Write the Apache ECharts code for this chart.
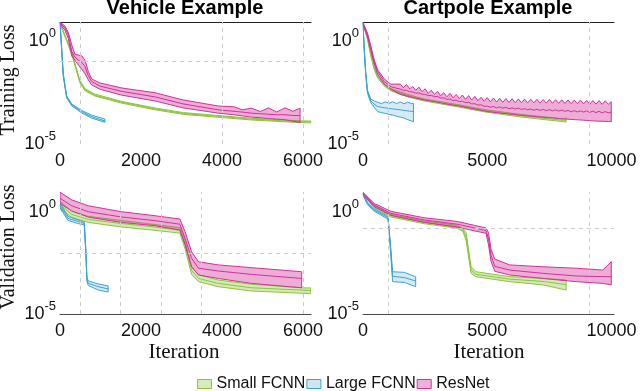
<!DOCTYPE html>
<html><head><meta charset="utf-8">
<script src="https://cdn.jsdelivr.net/npm/echarts@6/dist/echarts.min.js"></script>
<style>html,body{margin:0;padding:0;background:#fff}#c{width:640px;height:391px}</style>
</head><body><div id="c"></div>
<script>
// rows: [iteration, lower, mean, upper]
const vehicleTrainSmall = [
  [0, 6.5, 6.9, 7.3], [290, 0.22, 0.25, 0.28], [490, 0.0092, 0.0105, 0.012],
  [620, 0.0037, 0.0042, 0.0047], [860, 0.0021, 0.0023, 0.0026], [1520, 0.00095, 0.00105, 0.00115],
  [2350, 0.00045, 0.0005, 0.00055], [3050, 0.00027, 0.0003, 0.00033], [4730, 0.000145, 0.00016, 0.000175],
  [5930, 0.000108, 0.00012, 0.000132], [6210, 0.000105, 0.000117, 0.000128]
];
const vehicleTrainLarge = [
  [0, 7.0, 7.4, 7.8], [40, 0.38, 0.43, 0.48], [80, 0.019, 0.022, 0.025], [165, 0.0017, 0.0019, 0.0021],
  [290, 0.0007, 0.00078, 0.00087], [535, 0.00032, 0.00037, 0.00042], [780, 0.00018, 0.00021, 0.00025],
  [1110, 0.000112, 0.00013, 0.00016]
];
const vehicleTrainRes = [
  [0, 6.3, 7.1, 7.6], [120, 3.2, 4.1, 5.2], [205, 1.26, 1.9, 2.5], [290, 0.18, 0.3, 0.62],
  [370, 0.112, 0.158, 0.22], [453, 0.066, 0.112, 0.2], [535, 0.042, 0.089, 0.186], [617, 0.025, 0.056, 0.115],
  [700, 0.0126, 0.02, 0.032], [782, 0.0072, 0.0105, 0.014], [990, 0.0044, 0.0063, 0.0089],
  [1530, 0.0023, 0.0035, 0.0051], [2350, 0.0012, 0.0019, 0.003], [3040, 0.00056, 0.00087, 0.00135],
  [3910, 0.00031, 0.00045, 0.00069], [4300, 0.00026, 0.00038, 0.00063], [4500, 0.00023, 0.00035, 0.00045],
  [4730, 0.0002, 0.00031, 0.00054], [4950, 0.000186, 0.00029, 0.00037], [5150, 0.00017, 0.000275, 0.00056],
  [5350, 0.00016, 0.00026, 0.000355], [5560, 0.000148, 0.00026, 0.00056], [5750, 0.000126, 0.00024, 0.00038],
  [5930, 0.00011, 0.000235, 0.00054]
];
const cartpoleTrainSmall = [
  [0, 6.5, 6.9, 7.3], [180, 1.15, 1.3, 1.45], [315, 0.18, 0.2, 0.23], [450, 0.041, 0.046, 0.052],
  [585, 0.016, 0.018, 0.02], [855, 0.0064, 0.0072, 0.0081], [1120, 0.0037, 0.0042, 0.0047],
  [1790, 0.0019, 0.0022, 0.0025], [2460, 0.0012, 0.00135, 0.0015], [3800, 0.00063, 0.00072, 0.00081],
  [4940, 0.00035, 0.0004, 0.00045], [6230, 0.00021, 0.00024, 0.00028], [8110, 0.000118, 0.000138, 0.00016],
  [8170, 0.000112, 0.000132, 0.00019]
];
const cartpoleTrainLarge = [
  [0, 6.3, 6.9, 7.2], [47, 0.35, 0.43, 0.5], [115, 0.018, 0.022, 0.026], [180, 0.0028, 0.0034, 0.004],
  [315, 0.00098, 0.0012, 0.0015], [450, 0.0006, 0.00085, 0.0012], [585, 0.00037, 0.00065, 0.00105],
  [750, 0.00033, 0.0006, 0.0009], [900, 0.0003, 0.00056, 0.0011], [1050, 0.00027, 0.00052, 0.00092],
  [1200, 0.00025, 0.0005, 0.0011], [1350, 0.00022, 0.00047, 0.0009], [1500, 0.0002, 0.00045, 0.00108],
  [1650, 0.00018, 0.00042, 0.00088], [1800, 0.00015, 0.0004, 0.00105], [1950, 0.00013, 0.00038, 0.0009],
  [2030, 0.00012, 0.00037, 0.00093]
];
const cartpoleTrainRes = [
  [0, 6.3, 6.9, 7.4], [180, 1.5, 1.9, 2.3], [315, 0.33, 0.43, 0.55], [450, 0.075, 0.095, 0.12],
  [585, 0.024, 0.032, 0.04], [855, 0.0078, 0.0105, 0.014], [1120, 0.0045, 0.0059, 0.0078],
  [1500, 2.51e-3, 4.47e-3, 7.94e-3], [1625, 2.29e-3, 3.98e-3, 5.25e-3], [1750, 2.09e-3, 3.89e-3, 7.59e-3],
  [1875, 1.95e-3, 3.39e-3, 4.68e-3], [2000, 1.78e-3, 3.31e-3, 6.03e-3], [2125, 1.66e-3, 2.88e-3, 3.98e-3],
  [2250, 1.55e-3, 2.95e-3, 5.62e-3], [2375, 1.41e-3, 2.57e-3, 3.39e-3], [2500, 1.32e-3, 2.51e-3, 4.68e-3],
  [2625, 1.26e-3, 2.19e-3, 2.82e-3], [2750, 1.17e-3, 2.24e-3, 3.98e-3], [2875, 1.12e-3, 1.95e-3, 2.51e-3],
  [3000, 1.05e-3, 2.0e-3, 3.55e-3], [3125, 9.8e-4, 1.66e-3, 2.14e-3], [3250, 9.1e-4, 1.7e-3, 3.02e-3],
  [3375, 8.5e-4, 1.45e-3, 1.91e-3], [3500, 7.9e-4, 1.48e-3, 2.82e-3], [3625, 7.6e-4, 1.26e-3, 1.7e-3],
  [3750, 7.1e-4, 1.32e-3, 2.51e-3], [3875, 6.8e-4, 1.12e-3, 1.58e-3], [4000, 6.3e-4, 1.17e-3, 2.34e-3],
  [4125, 5.9e-4, 1.0e-3, 1.45e-3], [4250, 5.5e-4, 1.05e-3, 2.19e-3], [4375, 5.1e-4, 8.7e-4, 1.32e-3],
  [4500, 4.8e-4, 8.9e-4, 2.0e-3], [4625, 4.5e-4, 7.6e-4, 1.23e-3], [4750, 4.2e-4, 7.9e-4, 1.82e-3],
  [4875, 4.0e-4, 6.6e-4, 1.15e-3], [5000, 3.7e-4, 6.8e-4, 1.74e-3], [5125, 3.55e-4, 6.0e-4, 1.1e-3],
  [5250, 3.4e-4, 6.5e-4, 1.66e-3], [5375, 3.3e-4, 5.6e-4, 1.07e-3], [5500, 3.16e-4, 6.2e-4, 1.62e-3],
  [5625, 3.0e-4, 5.4e-4, 1.05e-3], [5750, 2.95e-4, 5.9e-4, 1.58e-3], [5875, 2.82e-4, 5.0e-4, 1.02e-3],
  [6000, 2.75e-4, 5.6e-4, 1.55e-3], [6125, 2.63e-4, 4.9e-4, 1.0e-3], [6250, 2.51e-4, 5.4e-4, 1.51e-3],
  [6375, 2.45e-4, 4.7e-4, 1.0e-3], [6500, 2.34e-4, 5.1e-4, 1.48e-3], [6625, 2.29e-4, 4.5e-4, 9.8e-4],
  [6750, 2.19e-4, 4.9e-4, 1.45e-3], [6875, 2.14e-4, 4.3e-4, 9.8e-4], [7000, 2.09e-4, 4.8e-4, 1.45e-3],
  [7125, 2.0e-4, 4.2e-4, 9.5e-4], [7250, 1.95e-4, 4.7e-4, 1.41e-3], [7375, 1.91e-4, 4.1e-4, 9.5e-4],
  [7500, 1.86e-4, 4.6e-4, 1.41e-3], [7625, 1.82e-4, 4.0e-4, 9.3e-4], [7750, 1.78e-4, 4.5e-4, 1.38e-3],
  [7875, 1.7e-4, 3.9e-4, 9.3e-4], [8000, 1.66e-4, 4.4e-4, 1.38e-3], [8125, 1.62e-4, 3.8e-4, 9.1e-4],
  [8250, 1.58e-4, 4.2e-4, 1.35e-3], [8375, 1.55e-4, 3.6e-4, 8.9e-4], [8500, 1.51e-4, 4.1e-4, 1.32e-3],
  [8625, 1.48e-4, 3.55e-4, 8.9e-4], [8750, 1.45e-4, 4.0e-4, 1.32e-3], [8875, 1.41e-4, 3.5e-4, 8.7e-4],
  [9000, 1.38e-4, 4.0e-4, 1.29e-3], [9125, 1.35e-4, 3.4e-4, 8.5e-4], [9250, 1.32e-4, 3.9e-4, 1.26e-3],
  [9375, 1.29e-4, 3.3e-4, 8.5e-4], [9500, 1.26e-4, 3.8e-4, 1.26e-3], [9625, 1.26e-4, 3.2e-4, 8.3e-4],
  [9750, 1.23e-4, 3.7e-4, 1.23e-3], [9875, 1.23e-4, 3.2e-4, 8.3e-4], [9990, 1.2e-4, 3.55e-4, 1.12e-3]
];
const vehicleValSmall = [
  [0, 1.58, 2.5, 3.55], [290, 0.56, 0.79, 1.12], [700, 0.32, 0.45, 0.63], [1520, 0.19, 0.28, 0.4],
  [2350, 0.13, 0.19, 0.25], [2960, 0.095, 0.13, 0.178], [3090, 0.0158, 0.025, 0.04],
  [3250, 8.9e-4, 1.41e-3, 2.1e-3], [3420, 3.9e-4, 5.6e-4, 8.3e-4], [3910, 2.2e-4, 3.2e-4, 4.7e-4],
  [4730, 1.35e-4, 1.95e-4, 2.9e-4], [5970, 1.05e-4, 1.5e-4, 1.95e-4], [6200, 1.0e-4, 1.41e-4, 1.9e-4]
];
const vehicleValLarge = [
  [0, 1.58, 2.1, 2.8], [200, 0.4, 0.5, 0.63], [450, 0.28, 0.35, 0.42], [600, 0.24, 0.28, 0.33],
  [640, 7.9e-3, 1e-2, 1.26e-2], [665, 4.0e-4, 5.0e-4, 6.3e-4], [700, 2.5e-4, 3.2e-4, 4.2e-4],
  [950, 1.5e-4, 2.2e-4, 3.0e-4], [1190, 1.2e-4, 1.7e-4, 2.4e-4]
];
const vehicleValRes = [
  [0, 2.75, 4.9, 9.8], [290, 1.17, 2.1, 4.1], [700, 0.58, 1.07, 2.1], [1520, 0.32, 0.59, 1.07],
  [2350, 0.22, 0.39, 0.68], [2960, 0.135, 0.26, 0.47], [3090, 0.025, 0.052, 0.112],
  [3250, 2.1e-3, 5.5e-3, 1.15e-2], [3420, 8.3e-4, 1.78e-3, 3.7e-3], [3910, 5.6e-4, 1.3e-3, 2.6e-3],
  [4730, 3.2e-4, 8.9e-4, 1.9e-3], [5970, 1.95e-4, 5.6e-4, 1.2e-3]
];
const cartpoleValSmall = [
  [0, 7.6, 8.3, 9.1], [450, 1.66, 1.9, 2.2], [1120, 0.59, 0.68, 0.78], [2460, 0.275, 0.32, 0.38],
  [3800, 0.166, 0.195, 0.23], [4020, 0.115, 0.135, 0.158], [4150, 0.04, 0.063, 0.1],
  [4350, 1.0e-3, 1.45e-3, 2.1e-3], [4540, 6.8e-4, 8.9e-4, 1.2e-3], [5900, 3.9e-4, 5.2e-4, 6.9e-4],
  [7240, 2.7e-4, 4.0e-4, 5.6e-4], [8175, 1.5e-4, 2.8e-4, 4.7e-4]
];
const cartpoleValLarge = [
  [0, 7.1, 7.9, 8.9], [180, 2.4, 2.75, 3.2], [450, 1.12, 1.29, 1.48], [920, 0.54, 0.62, 0.71],
  [1010, 0.44, 0.5, 0.58], [1120, 7.9e-3, 1.15e-2, 1.58e-2], [1190, 3.9e-4, 7.1e-4, 1.2e-3],
  [1660, 3.6e-4, 6.2e-4, 1.12e-3], [2120, 2.2e-4, 4.2e-4, 6.8e-4]
];
const cartpoleValRes = [
  [0, 7.6, 8.7, 9.5], [450, 1.9, 2.3, 2.75], [1120, 0.71, 0.89, 1.12], [2460, 0.32, 0.42, 0.54],
  [3800, 0.186, 0.26, 0.355], [4950, 0.093, 0.126, 0.17], [5050, 0.025, 0.05, 0.1],
  [5150, 4.0e-3, 7.9e-3, 1.58e-2], [5300, 1.26e-3, 2.2e-3, 5.0e-3], [5900, 8.3e-4, 1.45e-3, 2.6e-3],
  [7240, 5.6e-4, 1.0e-3, 2.1e-3], [8580, 3.9e-4, 7.4e-4, 1.78e-3], [9650, 3.2e-4, 6.9e-4, 1.45e-3],
  [9990, 2.7e-4, 6.8e-4, 3.7e-3]
];
const seriesNames = ['Small FCNN', 'Large FCNN', 'ResNet'];
const titles = ['Vehicle Example', 'Cartpole Example'];
const yTitles = ['Training Loss', 'Validation Loss'];
const xTitle = 'Iteration';
// dashed guide-line positions (data units)
const guideX = [[490, 4000, 6000], [1000, 9100], [490, 1490, 2490, 3500, 6000], [1000, 9100]];
const guideY = [[0.1, 0.001], [], [0.01], [0.16, 1.1e-4]];

const colors = [
  {line: '#8dc540', fill: 'rgba(141,197,64,0.38)', legend: '#d5ebb9'},
  {line: '#3ba3d6', fill: 'rgba(59,163,214,0.22)', legend: '#cfe6f3'},
  {line: '#d1329c', fill: 'rgba(209,50,156,0.40)', legend: '#efb0dc'}
];
const panels = [
  {sets: [vehicleTrainSmall, vehicleTrainLarge, vehicleTrainRes], left: 60, top: 22, xMax: 6200, step: 2000, yMax: 7.94, upper: true},
  {sets: [cartpoleTrainSmall, cartpoleTrainLarge, cartpoleTrainRes], left: 363, top: 22, xMax: 10100, step: 5000, yMax: 7.94, upper: true},
  {sets: [vehicleValSmall, vehicleValLarge, vehicleValRes], left: 60, top: 192, xMax: 6200, step: 2000, yMax: 10, upper: false},
  {sets: [cartpoleValSmall, cartpoleValLarge, cartpoleValRes], left: 363, top: 192, xMax: 10100, step: 5000, yMax: 10, upper: false}
];

const FONT = 'Liberation Sans, Arial, sans-serif';
function yLabel(v) {
  const l = Math.log10(v), e = Math.round(l);
  if (Math.abs(l - e) > 1e-6) return '';
  if (e === 0) return '{b|10}{s|0}';
  if (e === -5) return '{b|10}{s|-5}';
  return '';
}
const grid = [], xAxis = [], yAxis = [], series = [];
panels.forEach((p, i) => {
  grid.push({left: p.left, top: p.top, width: 251, height: 122});
  xAxis.push({
    type: 'value', gridIndex: i, min: 0, max: p.xMax, interval: p.step,
    axisLine: {show: !p.upper, onZero: false, lineStyle: {color: '#4a4a4a', width: 1}},
    axisTick: {show: false}, splitLine: {show: false},
    axisLabel: {fontSize: 18, fontFamily: FONT, color: '#111', margin: 8,
      formatter: v => (v % p.step === 0 ? String(v) : '')}
  });
  yAxis.push({
    type: 'log', logBase: 10, gridIndex: i, min: 1e-5, max: p.yMax,
    axisLine: {show: false}, axisTick: {show: false}, splitLine: {show: false},
    axisLabel: {margin: 4, formatter: yLabel,
      rich: {
        b: {fontSize: 18, fontFamily: FONT, color: '#111', lineHeight: 18, verticalAlign: 'bottom'},
        s: {fontSize: 13, fontFamily: FONT, color: '#111', lineHeight: 13, verticalAlign: 'bottom', padding: [0, 0, 10, 0]}
      }}
  });
});
// top border lines for the training panels
panels.forEach((p, i) => {
  if (p.upper) {
    xAxis.push({type: 'value', gridIndex: i, position: 'top', min: 0, max: p.xMax,
      axisLine: {show: true, onZero: false, lineStyle: {color: '#222', width: 1}},
      axisTick: {show: false}, axisLabel: {show: false}, splitLine: {show: false}});
  }
});

panels.forEach((p, i) => {
  const md = [];
  guideX[i].forEach(x => md.push({xAxis: x}));
  guideY[i].forEach(y => md.push({yAxis: y}));
  series.push({type: 'line', xAxisIndex: i, yAxisIndex: i, data: [], silent: true, z: 1,
    markLine: {silent: true, symbol: ['none', 'none'], label: {show: false}, animation: false,
      lineStyle: {color: '#cdcdcd', type: [4, 4], width: 1}, emphasis: {disabled: true}, data: md}});
  p.sets.forEach((rows, g) => {
    const c = colors[g];
    // min-max band: polygon through the axis scales, outlined in series colour
    series.push({
      type: 'custom', name: seriesNames[g], xAxisIndex: i, yAxisIndex: i, silent: true, z: 2 + g,
      encode: {x: 0, y: [1, 3]}, data: rows, clip: true,
      renderItem: (params, api) => {
        if (params.dataIndex !== 0) return null;
        const pts = [];
        rows.forEach(r => pts.push(api.coord([r[0], r[3]])));
        for (let k = rows.length - 1; k >= 0; k--) pts.push(api.coord([rows[k][0], rows[k][1]]));
        return {type: 'polygon', shape: {points: pts},
          style: {fill: c.fill, stroke: c.line, lineWidth: 1, lineJoin: 'round'}};
      }
    });
    series.push({type: 'line', name: seriesNames[g], xAxisIndex: i, yAxisIndex: i, symbol: 'none',
      silent: true, z: 2 + g, data: rows.map(r => [r[0], r[2]]),
      lineStyle: {color: c.line, width: 1}, itemStyle: {color: c.line}});
  });
});

const graphic = [];
titles.forEach((t, k) => graphic.push({type: 'text', x: k === 0 ? 185 : 488, y: 8,
  style: {text: t, font: 'bold 20px ' + FONT, fill: '#000', align: 'center', verticalAlign: 'middle'}}));
yTitles.forEach((t, k) => graphic.push({type: 'text', x: 9, y: k === 0 ? 80 : 247, rotation: Math.PI / 2,
  style: {text: t, font: '20px "Liberation Serif", serif', fill: '#111', align: 'center', verticalAlign: 'middle'}}));
[184, 489].forEach(x => graphic.push({type: 'text', x, y: 352,
  style: {text: xTitle, font: '21px "Liberation Serif", serif', fill: '#111', align: 'center', verticalAlign: 'middle'}}));

const chart = echarts.init(document.getElementById('c'), null, {renderer: 'canvas'});
chart.setOption({
  backgroundColor: '#fff',
  animation: false,
  grid, xAxis, yAxis, series, graphic,
  legend: {
    left: 192, top: 371, itemWidth: 14, itemHeight: 9, itemGap: 1, icon: 'rect',
    selectedMode: false,
    textStyle: {fontSize: 16, fontFamily: FONT, color: '#111'},
    data: seriesNames.map((n, g) => ({name: n, itemStyle: {color: colors[g].legend, borderColor: colors[g].line, borderWidth: 1}}))
  }
});
</script></body></html>
